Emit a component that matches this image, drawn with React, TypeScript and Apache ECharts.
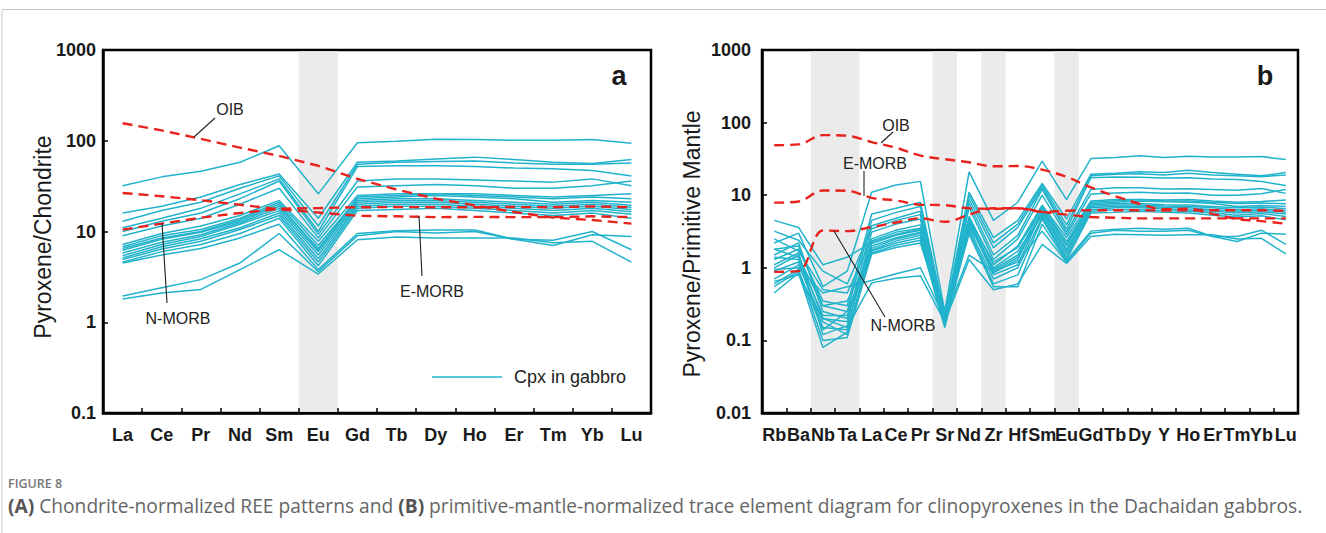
import React, { useEffect, useRef } from "react";
import * as echarts from "echarts";

// ---------- DATA ----------
const REE = ["La", "Ce", "Pr", "Nd", "Sm", "Eu", "Gd", "Tb", "Dy", "Ho", "Er", "Tm", "Yb", "Lu"];
const TRACE = ["Rb", "Ba", "Nb", "Ta", "La", "Ce", "Pr", "Sr", "Nd", "Zr", "Hf", "Sm", "Eu", "Gd", "Tb", "Dy", "Y", "Ho", "Er", "Tm", "Yb", "Lu"];

const bandsA = [5]; // Eu
const bandsB = [2, 3, 7, 9, 12]; // Nb, Ta, Sr, Zr, Eu

const yTicksA = [0.1, 1, 10, 100, 1000];
const yTicksB = [0.01, 0.1, 1, 10, 100, 1000];

// Chondrite-normalized reference patterns
const oibA = [156, 130, 105, 84, 68, 53, 38, 29, 23, 19.4, 16.4, 14.2, 13.4, 12.2];
const emorbA = [26.6, 24.5, 22.1, 19.7, 17.6, 16.2, 14.9, 14.7, 14.4, 14.5, 14.4, 14.4, 14.7, 14.4];
const nmorbA = [10.5, 12.2, 14.2, 16, 17.8, 18.1, 18.5, 18.6, 18.5, 18.5, 18.6, 18.5, 18.9, 18.5];

// Cpx in gabbro, chondrite-normalized
const cpxA1 = [32, 40, 46, 58, 88, 26, 95, 99, 104, 103, 101, 101, 103, 94];
const cpxA2 = [16, 19, 24, 33, 43, 14, 58, 60, 63, 66, 62, 58, 56, 62];
const cpxA3 = [13, 17, 21, 30, 41, 11.5, 55, 58, 59, 60, 57, 55, 55, 57];
const cpxA4 = [11, 14, 18, 26, 38, 10, 52, 53, 53, 52, 50, 49, 47, 41];
const cpxA5 = [10, 13, 16, 23, 36, 9.3, 36, 38, 38, 37, 36, 35, 38, 32];
const cpxA6 = [9, 11.5, 14, 20, 30, 8.5, 31, 32, 33, 32, 30, 30, 32, 36];
const cpxA7 = [7.2, 9.5, 11.5, 15, 22, 7.8, 25, 26, 26, 25, 24, 23, 24, 23];
const cpxA8 = [6.8, 9, 10.5, 14, 21, 7, 23, 24, 25, 24, 23, 21, 22, 21];
const cpxA9 = [6.2, 8.2, 9.8, 13, 19, 6.5, 22, 23, 23, 22, 21, 20, 21, 19.5];
const cpxA10 = [5.8, 7.6, 9.2, 12.5, 18, 6, 21, 22, 22, 21, 20, 19, 20, 18.5];
const cpxA11 = [5.4, 7.2, 8.8, 12, 17, 5.5, 20, 21, 21, 20, 19, 18, 19, 17.5];
const cpxA12 = [5.1, 6.8, 8.3, 11, 16, 5, 19, 20, 20, 19, 18, 17, 18, 16.5];
const cpxA13 = [4.9, 6.4, 7.8, 10.5, 15, 4.6, 18, 19, 19, 18, 17, 16, 17, 15.5];
const cpxA14 = [4.6, 6, 7.2, 9.5, 14, 4.2, 17, 17.5, 18, 17, 16, 15, 16, 14];
const cpxA15 = [4.5, 5.5, 6.5, 8.5, 12, 3.8, 9.5, 10.2, 10.4, 10.4, 8.2, 8.0, 10, 6.3];
const cpxA16 = [1.95, 2.4, 2.95, 4.5, 9.5, 3.6, 9, 10, 9.6, 10, 8.2, 7, 9.2, 8.8];
const cpxA17 = [1.8, 2.1, 2.3, 3.8, 6.3, 3.4, 8.1, 8.7, 8.5, 8.5, 8.5, 7.5, 7.8, 4.6];
const cpxA18 = [6.5, 8.5, 10, 13.5, 20, 6.2, 24, 25, 26, 26, 25, 24, 25, 26];

// Primitive-mantle-normalized reference patterns
const oibB = [48.8, 50.1, 67.3, 65.9, 53.9, 45.1, 35.1, 31.3, 28.4, 25, 25.2, 22.5, 17.9, 12.8, 9.7, 7.6, 6.4, 6.5, 5.5, 4.7, 4.4, 4.05];
const emorbB = [7.9, 8.2, 11.6, 11.5, 9.2, 8.45, 7.4, 7.3, 6.6, 6.5, 6.6, 5.9, 5.4, 5.0, 4.9, 4.8, 4.8, 4.8, 4.8, 4.8, 4.8, 4.8];
const nmorbB = [0.88, 0.9, 3.27, 3.2, 3.64, 4.2, 4.8, 4.3, 5.4, 6.6, 6.6, 5.9, 6.1, 6.2, 6.2, 6.2, 6.15, 6.2, 6.2, 6.2, 6.2, 6.1];

// Cpx in gabbro, primitive-mantle-normalized
const cpxB1 = [2.2, 3.0, 0.55, 0.9, 11, 13.8, 15.5, 0.25, 21, 4.5, 8, 29.5, 8.7, 32, 33, 35, 33, 34.5, 33.5, 33.5, 34, 31];
const cpxB2 = [1.3, 1.8, 0.35, 0.3, 5.5, 6.6, 8.0, 0.22, 11, 2.6, 4.5, 14.5, 4.7, 19.5, 20, 21, 20.5, 22, 20.5, 19.5, 18.5, 20.5];
const cpxB3 = [1.8, 2.0, 0.3, 0.25, 4.5, 5.8, 7.0, 0.2, 10, 2.2, 4, 13.7, 3.9, 18.5, 19.5, 19.8, 19, 20, 19, 18.5, 18, 19];
const cpxB4 = [1.0, 1.5, 0.2, 0.18, 3.8, 4.8, 6.0, 0.19, 8.8, 1.9, 3.6, 12.7, 3.4, 17.4, 17.8, 17.7, 17.2, 17.4, 16.7, 16.4, 15.4, 13.6];
const cpxB5 = [3.2, 2.4, 0.9, 0.6, 3.45, 4.5, 5.4, 0.18, 7.8, 1.5, 2.8, 12, 3.1, 12, 12.7, 12.7, 12.2, 12.3, 12, 11.7, 12.4, 10.6];
const cpxB6 = [0.9, 1.2, 0.15, 0.14, 3.1, 4.0, 4.7, 0.17, 6.8, 1.3, 2.5, 10, 2.85, 10.4, 10.7, 11, 10.6, 10.7, 10, 10, 10.5, 12];
const cpxB7 = [2.5, 1.7, 0.5, 0.45, 2.5, 3.3, 3.9, 0.22, 5.1, 1.1, 2.0, 7.3, 2.6, 8.3, 8.7, 8.7, 8.4, 8.3, 8.0, 7.7, 7.8, 7.6];
const cpxB8 = [1.5, 2.2, 0.25, 0.2, 2.35, 3.1, 3.5, 0.25, 4.7, 0.95, 1.5, 7.0, 2.3, 7.7, 8.0, 8.3, 8.1, 8.0, 7.7, 7.0, 7.2, 7.0];
const cpxB9 = [1.1, 1.6, 0.12, 0.16, 2.15, 2.8, 3.3, 0.23, 4.4, 0.85, 1.3, 6.3, 2.0, 7.3, 7.7, 7.7, 7.4, 7.3, 7.0, 6.7, 6.9, 6.5];
const cpxB10 = [0.7, 1.1, 0.18, 0.12, 2.0, 2.6, 3.1, 0.2, 4.2, 0.8, 1.1, 6.0, 1.8, 7.0, 7.3, 7.3, 7.1, 7.0, 6.7, 6.3, 6.5, 6.1];
const cpxB11 = [1.4, 1.3, 0.22, 0.22, 1.85, 2.5, 3.0, 0.18, 4.0, 0.9, 1.4, 5.7, 1.7, 6.7, 7.0, 7.0, 6.8, 6.7, 6.3, 6.0, 6.2, 5.8];
const cpxB12 = [0.55, 0.9, 0.14, 0.25, 1.75, 2.35, 2.8, 0.17, 3.7, 1.0, 1.7, 5.3, 1.55, 6.3, 6.7, 6.7, 6.5, 6.3, 6.0, 5.7, 5.9, 5.5];
const cpxB13 = [0.45, 0.85, 0.08, 0.13, 1.7, 2.2, 2.6, 0.16, 3.5, 0.7, 1.0, 5.0, 1.4, 6.0, 6.3, 6.3, 6.1, 6.0, 5.7, 5.3, 5.6, 5.1];
const cpxB14 = [1.8, 1.4, 0.3, 0.35, 1.6, 2.05, 2.4, 0.15, 3.2, 0.6, 0.8, 4.7, 1.3, 5.7, 5.8, 6.0, 5.8, 5.7, 5.3, 5.0, 5.2, 4.6];
const cpxB15 = [0.6, 0.95, 0.1, 0.11, 1.55, 1.9, 2.2, 0.2, 2.9, 0.55, 0.55, 4.0, 1.25, 3.2, 3.4, 3.5, 3.4, 3.5, 2.7, 2.7, 3.3, 2.1];
const cpxB16 = [0.95, 1.0, 0.45, 0.55, 0.67, 0.83, 1.0, 0.2, 1.5, 0.9, 1.2, 3.2, 1.2, 3.0, 3.3, 3.2, 3.2, 3.3, 2.7, 2.3, 3.0, 2.9];
const cpxB17 = [0.65, 0.8, 0.2, 0.15, 0.62, 0.72, 0.78, 0.18, 1.3, 0.5, 0.6, 2.1, 1.15, 2.7, 2.9, 2.85, 2.8, 2.85, 2.85, 2.5, 2.55, 1.55];
const cpxB18 = [4.5, 3.6, 1.1, 1.4, 2.25, 2.9, 3.4, 0.24, 4.6, 1.2, 1.9, 6.7, 2.1, 8.0, 8.4, 8.7, 8.6, 8.7, 8.3, 8.0, 8.2, 8.6];

const cpxA = [cpxA1, cpxA2, cpxA3, cpxA4, cpxA5, cpxA6, cpxA7, cpxA8, cpxA9, cpxA10, cpxA11, cpxA12, cpxA13, cpxA14, cpxA15, cpxA16, cpxA17, cpxA18];
const cpxB = [cpxB1, cpxB2, cpxB3, cpxB4, cpxB5, cpxB6, cpxB7, cpxB8, cpxB9, cpxB10, cpxB11, cpxB12, cpxB13, cpxB14, cpxB15, cpxB16, cpxB17, cpxB18];

// ---------- STYLE ----------
const CYAN = "#22b3cc";
const RED = "#e8231e";
const BAND = "#ebebeb";
const ARIAL = "'Liberation Sans', Arial, Helvetica, sans-serif";
const CAPTION_FONT = "'Open Sans', 'Noto Sans', sans-serif";

function fmtLog(v: number) {
  const n = Math.round(Math.log10(v));
  return n < 0 ? Math.pow(10, n).toFixed(-n) : String(Math.round(Math.pow(10, n)));
}

export default function App() {
  const ref = useRef<HTMLDivElement>(null);

  useEffect(() => {
    const chart = echarts.init(ref.current!, null, { renderer: "svg" });

    const axisLabelStyle = {
      fontFamily: ARIAL,
      fontWeight: "bold" as const,
      fontSize: 18,
      color: "#1a1a1a",
    };

    const xAxisBase = (gridIndex: number, data: string[]) => ({
      type: "category",
      gridIndex,
      data,
      boundaryGap: true,
      z: 10,
      axisLine: { show: true, lineStyle: { color: "#000", width: 2.5 } },
      axisTick: { show: true, inside: true, length: 5, lineStyle: { color: "#000", width: 1.5 } },
      axisLabel: { ...axisLabelStyle, interval: 0, margin: 13 },
      splitLine: { show: false },
    });

    const yAxisBase = (gridIndex: number, min: number, ticks: number[], margin: number) => ({
      type: "log",
      logBase: 10,
      gridIndex,
      min,
      max: ticks[ticks.length - 1],
      z: 10,
      axisLine: { show: true, lineStyle: { color: "#000", width: 2.5 } },
      axisTick: { show: true, inside: true, length: 5, lineStyle: { color: "#000", width: 1.5 } },
      axisLabel: { ...axisLabelStyle, margin, formatter: (v: number) => fmtLog(v) },
      splitLine: { show: false },
      minorTick: { show: false },
    });

    const bandSeries = (idx: number, bands: number[]) => ({
      type: "custom",
      xAxisIndex: idx,
      yAxisIndex: idx,
      silent: true,
      z: 1,
      data: bands.map((b) => [b, 1]),
      encode: { x: 0, y: 1 },
      renderItem: (params: any, api: any) => {
        const c = api.coord([api.value(0), 1]);
        const w = api.size([1, 1])[0];
        const cs = params.coordSys;
        return {
          type: "rect",
          shape: { x: c[0] - w / 2, y: cs.y + 1.3, width: w, height: cs.height - 2.6 },
          style: { fill: BAND },
        };
      },
    });

    const cpxSeries = (idx: number, arr: number[][]) =>
      arr.map((d, i) => ({
        type: "line",
        name: "Cpx in gabbro " + (i + 1),
        xAxisIndex: idx,
        yAxisIndex: idx,
        data: d,
        symbol: "none",
        silent: true,
        z: 3,
        lineStyle: { color: CYAN, width: 1.5 },
      }));

    const refSeries = (idx: number, name: string, d: number[], smooth: number | boolean) => ({
      type: "line",
      name,
      xAxisIndex: idx,
      yAxisIndex: idx,
      data: d,
      symbol: "none",
      silent: true,
      smooth,
      z: 5,
      lineStyle: { color: RED, width: 2.4, type: [10, 6] },
    });

    const annText = (text: string, x: number, y: number) => ({
      type: "text",
      x,
      y,
      z: 20,
      style: {
        text,
        fontFamily: ARIAL,
        fontSize: 16,
        fill: "#222",
        align: "center",
        verticalAlign: "middle",
      },
    });
    const leader = (x1: number, y1: number, x2: number, y2: number) => ({
      type: "line",
      z: 20,
      shape: { x1, y1, x2, y2 },
      style: { stroke: "#222", lineWidth: 1.1 },
    });

    const option: any = {
      animation: false,
      backgroundColor: "#fff",
      grid: [
        { left: 103, top: 50, width: 548, height: 363, show: true, borderColor: "#000", borderWidth: 2.5 },
        { left: 762, top: 50, width: 536, height: 363, show: true, borderColor: "#000", borderWidth: 2.5 },
      ],
      xAxis: [xAxisBase(0, REE), xAxisBase(1, TRACE)],
      yAxis: [yAxisBase(0, yTicksA[0], yTicksA, 7), yAxisBase(1, yTicksB[0], yTicksB, 11)],
      series: [
        bandSeries(0, bandsA),
        bandSeries(1, bandsB),
        ...cpxSeries(0, cpxA),
        ...cpxSeries(1, cpxB),
        refSeries(0, "OIB", oibA, false),
        refSeries(0, "E-MORB", emorbA, false),
        refSeries(0, "N-MORB", nmorbA, false),
        refSeries(1, "OIB", oibB, 0.35),
        refSeries(1, "E-MORB", emorbB, 0.35),
        refSeries(1, "N-MORB", nmorbB, 0.35),
      ],
      graphic: [
        // outer frame
        {
          type: "rect",
          z: 0,
          shape: { x: 2, y: 9.5, width: 1400, height: 600 },
          style: { fill: "none", stroke: "#c8c8c8", lineWidth: 1 },
        },
        // y axis names
        {
          type: "text",
          x: 43,
          y: 237,
          rotation: Math.PI / 2,
          style: {
            text: "Pyroxene/Chondrite",
            fontFamily: ARIAL,
            fontSize: 23,
            fill: "#1a1a1a",
            align: "center",
            verticalAlign: "middle",
          },
        },
        {
          type: "text",
          x: 692,
          y: 244,
          rotation: Math.PI / 2,
          style: {
            text: "Pyroxene/Primitive Mantle",
            fontFamily: ARIAL,
            fontSize: 23,
            fill: "#1a1a1a",
            align: "center",
            verticalAlign: "middle",
          },
        },
        // panel letters
        {
          type: "text",
          x: 619,
          y: 76,
          style: { text: "a", fontFamily: ARIAL, fontWeight: "bold", fontSize: 27, fill: "#1a1a1a", align: "center", verticalAlign: "middle" },
        },
        {
          type: "text",
          x: 1265,
          y: 76,
          style: { text: "b", fontFamily: ARIAL, fontWeight: "bold", fontSize: 27, fill: "#1a1a1a", align: "center", verticalAlign: "middle" },
        },
        // panel a annotations
        annText("OIB", 230, 109),
        leader(194, 137, 215, 118),
        annText("N-MORB", 178, 318),
        leader(162, 223, 167, 303),
        annText("E-MORB", 432, 291),
        leader(419, 216, 422, 276),
        // legend
        { type: "line", z: 20, shape: { x1: 432, y1: 377, x2: 502, y2: 377 }, style: { stroke: CYAN, lineWidth: 1.5 } },
        {
          type: "text",
          x: 514,
          y: 377,
          z: 20,
          style: { text: "Cpx in gabbro", fontFamily: ARIAL, fontSize: 18, fill: "#222", align: "left", verticalAlign: "middle" },
        },
        // panel b annotations
        annText("OIB", 896, 125),
        leader(881, 143, 893, 132),
        annText("E-MORB", 875, 163),
        leader(864, 171, 864, 196),
        annText("N-MORB", 903, 325),
        leader(834, 231, 885, 317),
        // caption
        {
          type: "text",
          x: 8,
          y: 483,
          style: { text: "FIGURE 8", fontFamily: CAPTION_FONT, fontSize: 12.5, fontWeight: 600, fill: "#777", align: "left", verticalAlign: "middle", lineHeight: 13 },
        },
        {
          type: "text",
          x: 8,
          y: 505,
          style: {
            text: "{b|(A)}{n| Chondrite-normalized REE patterns and }{b|(B)}{n| primitive-mantle-normalized trace element diagram for clinopyroxenes in the Dachaidan gabbros.}",
            fontFamily: CAPTION_FONT,
            fontSize: 19.2,
            fill: "#666",
            align: "left",
            verticalAlign: "middle",
            lineHeight: 19,
            rich: {
              b: { fontFamily: CAPTION_FONT, fontSize: 19.2, fontWeight: "bold", fill: "#555", lineHeight: 19 },
              n: { fontFamily: CAPTION_FONT, fontSize: 19.2, fill: "#666", lineHeight: 19 },
            },
          },
        },
      ],
    };

    chart.setOption(option);
    return () => chart.dispose();
  }, []);

  return <div ref={ref} style={{ position: "absolute", left: 0, top: 0, width: 1326, height: 533 }} />;
}
